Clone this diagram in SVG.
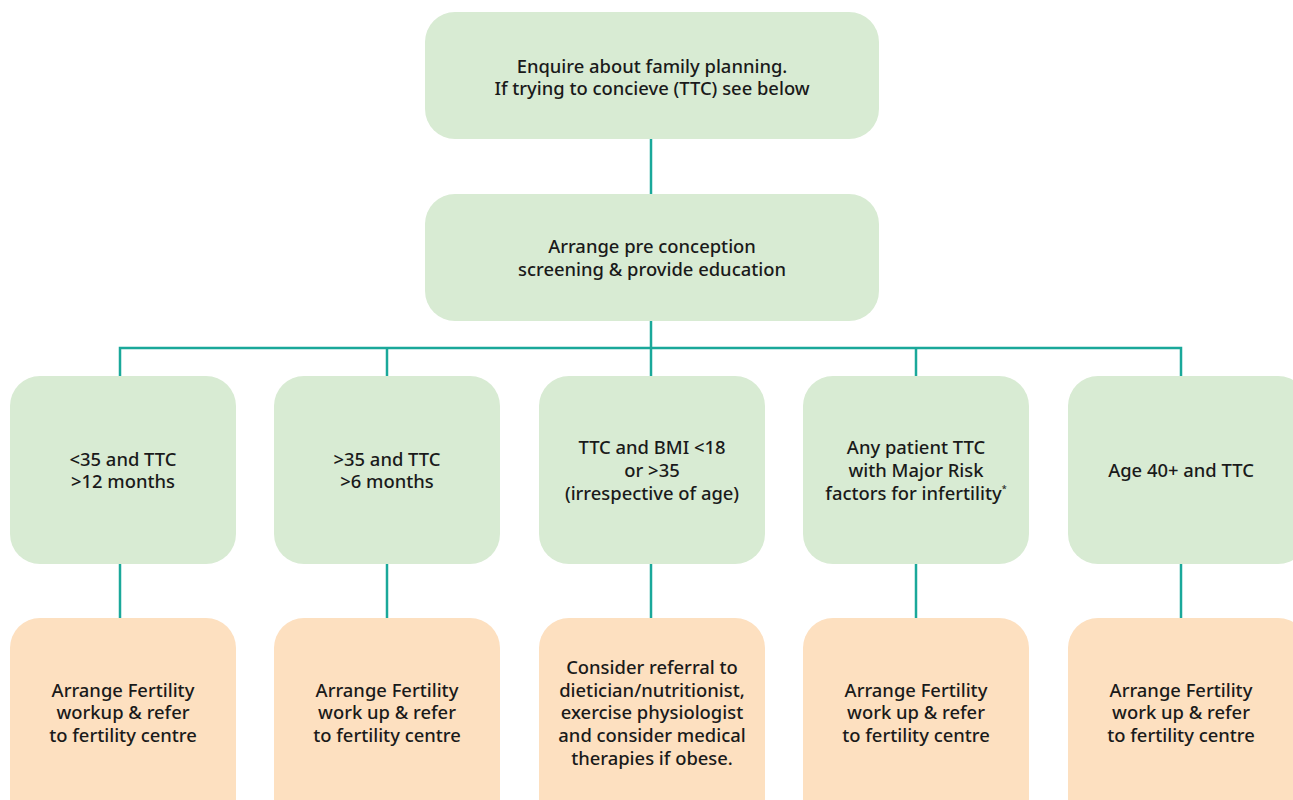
<svg xmlns="http://www.w3.org/2000/svg" width="1293" height="800" viewBox="0 0 1293 800">
<style>
.g{fill:#d8ebd3}
.o{fill:#fde0c0}
.t{font-family:"Noto Sans","Open Sans",sans-serif;font-size:18.4px;font-weight:500;fill:#1a1a1a;text-anchor:middle}
.c{stroke:#1aa89a;stroke-width:2.5;fill:none}
</style>
<rect width="1293" height="800" fill="#ffffff"/>
<g id="connectors">
<line class="c" x1="651" y1="139" x2="651" y2="195"/>
<line class="c" x1="651" y1="320" x2="651" y2="348"/>
<polyline class="c" points="120,377 120,348 1181,348 1181,377"/>
<line class="c" x1="387" y1="348" x2="387" y2="377"/>
<line class="c" x1="916" y1="348" x2="916" y2="377"/>
<line class="c" x1="651" y1="348" x2="651" y2="377"/>
<line class="c" x1="120" y1="563" x2="120" y2="619"/>
<line class="c" x1="387" y1="563" x2="387" y2="619"/>
<line class="c" x1="651" y1="563" x2="651" y2="619"/>
<line class="c" x1="916" y1="563" x2="916" y2="619"/>
<line class="c" x1="1181" y1="563" x2="1181" y2="619"/>
</g>
<g id="n-enquire">
<rect class="g" x="425" y="12" width="454" height="127" rx="30"/>
<text class="t" x="652" y="73">Enquire about family planning.</text>
<text class="t" x="652" y="95">If trying to concieve (TTC) see below</text>
</g>
<g id="n-arrange">
<rect class="g" x="425" y="194" width="454" height="127" rx="30"/>
<text class="t" x="652" y="253">Arrange pre conception</text>
<text class="t" x="652" y="276">screening &amp; provide education</text>
</g>
<g id="n-lt35">
<rect class="g" x="10" y="376" width="226" height="188" rx="30"/>
<text class="t" x="123" y="466">&lt;35 and TTC</text>
<text class="t" x="123" y="488">&gt;12 months</text>
</g>
<g id="n-gt35">
<rect class="g" x="274" y="376" width="226" height="188" rx="30"/>
<text class="t" x="387" y="466">&gt;35 and TTC</text>
<text class="t" x="387" y="488">&gt;6 months</text>
</g>
<g id="n-bmi">
<rect class="g" x="539" y="376" width="226" height="188" rx="30"/>
<text class="t" x="652" y="454">TTC and BMI &lt;18</text>
<text class="t" x="652" y="477">or &gt;35</text>
<text class="t" x="652" y="500">(irrespective of age)</text>
</g>
<g id="n-risk">
<rect class="g" x="803" y="376" width="226" height="188" rx="30"/>
<text class="t" x="916" y="454">Any patient TTC</text>
<text class="t" x="916" y="477">with Major Risk</text>
<text class="t" x="916" y="500">factors for infertility<tspan font-size="9" dy="-8">*</tspan></text>
</g>
<g id="n-40">
<rect class="g" x="1068" y="376" width="240" height="188" rx="30"/>
<text class="t" x="1181" y="477">Age 40+ and TTC</text>
</g>
<g id="n-r1">
<rect class="o" x="10" y="618" width="226" height="210" rx="30"/>
<text class="t" x="123" y="697">Arrange Fertility</text>
<text class="t" x="123" y="719">workup &amp; refer</text>
<text class="t" x="123" y="742">to fertility centre</text>
</g>
<g id="n-r2">
<rect class="o" x="274" y="618" width="226" height="210" rx="30"/>
<text class="t" x="387" y="697">Arrange Fertility</text>
<text class="t" x="387" y="719">work up &amp; refer</text>
<text class="t" x="387" y="742">to fertility centre</text>
</g>
<g id="n-r3">
<rect class="o" x="539" y="618" width="226" height="210" rx="30"/>
<text class="t" x="652" y="674">Consider referral to</text>
<text class="t" x="652" y="697">dietician/nutritionist,</text>
<text class="t" x="652" y="719">exercise physiologist</text>
<text class="t" x="652" y="742">and consider medical</text>
<text class="t" x="652" y="765">therapies if obese.</text>
</g>
<g id="n-r4">
<rect class="o" x="803" y="618" width="226" height="210" rx="30"/>
<text class="t" x="916" y="697">Arrange Fertility</text>
<text class="t" x="916" y="719">work up &amp; refer</text>
<text class="t" x="916" y="742">to fertility centre</text>
</g>
<g id="n-r5">
<rect class="o" x="1068" y="618" width="240" height="210" rx="30"/>
<text class="t" x="1181" y="697">Arrange Fertility</text>
<text class="t" x="1181" y="719">work up &amp; refer</text>
<text class="t" x="1181" y="742">to fertility centre</text>
</g>
</svg>
